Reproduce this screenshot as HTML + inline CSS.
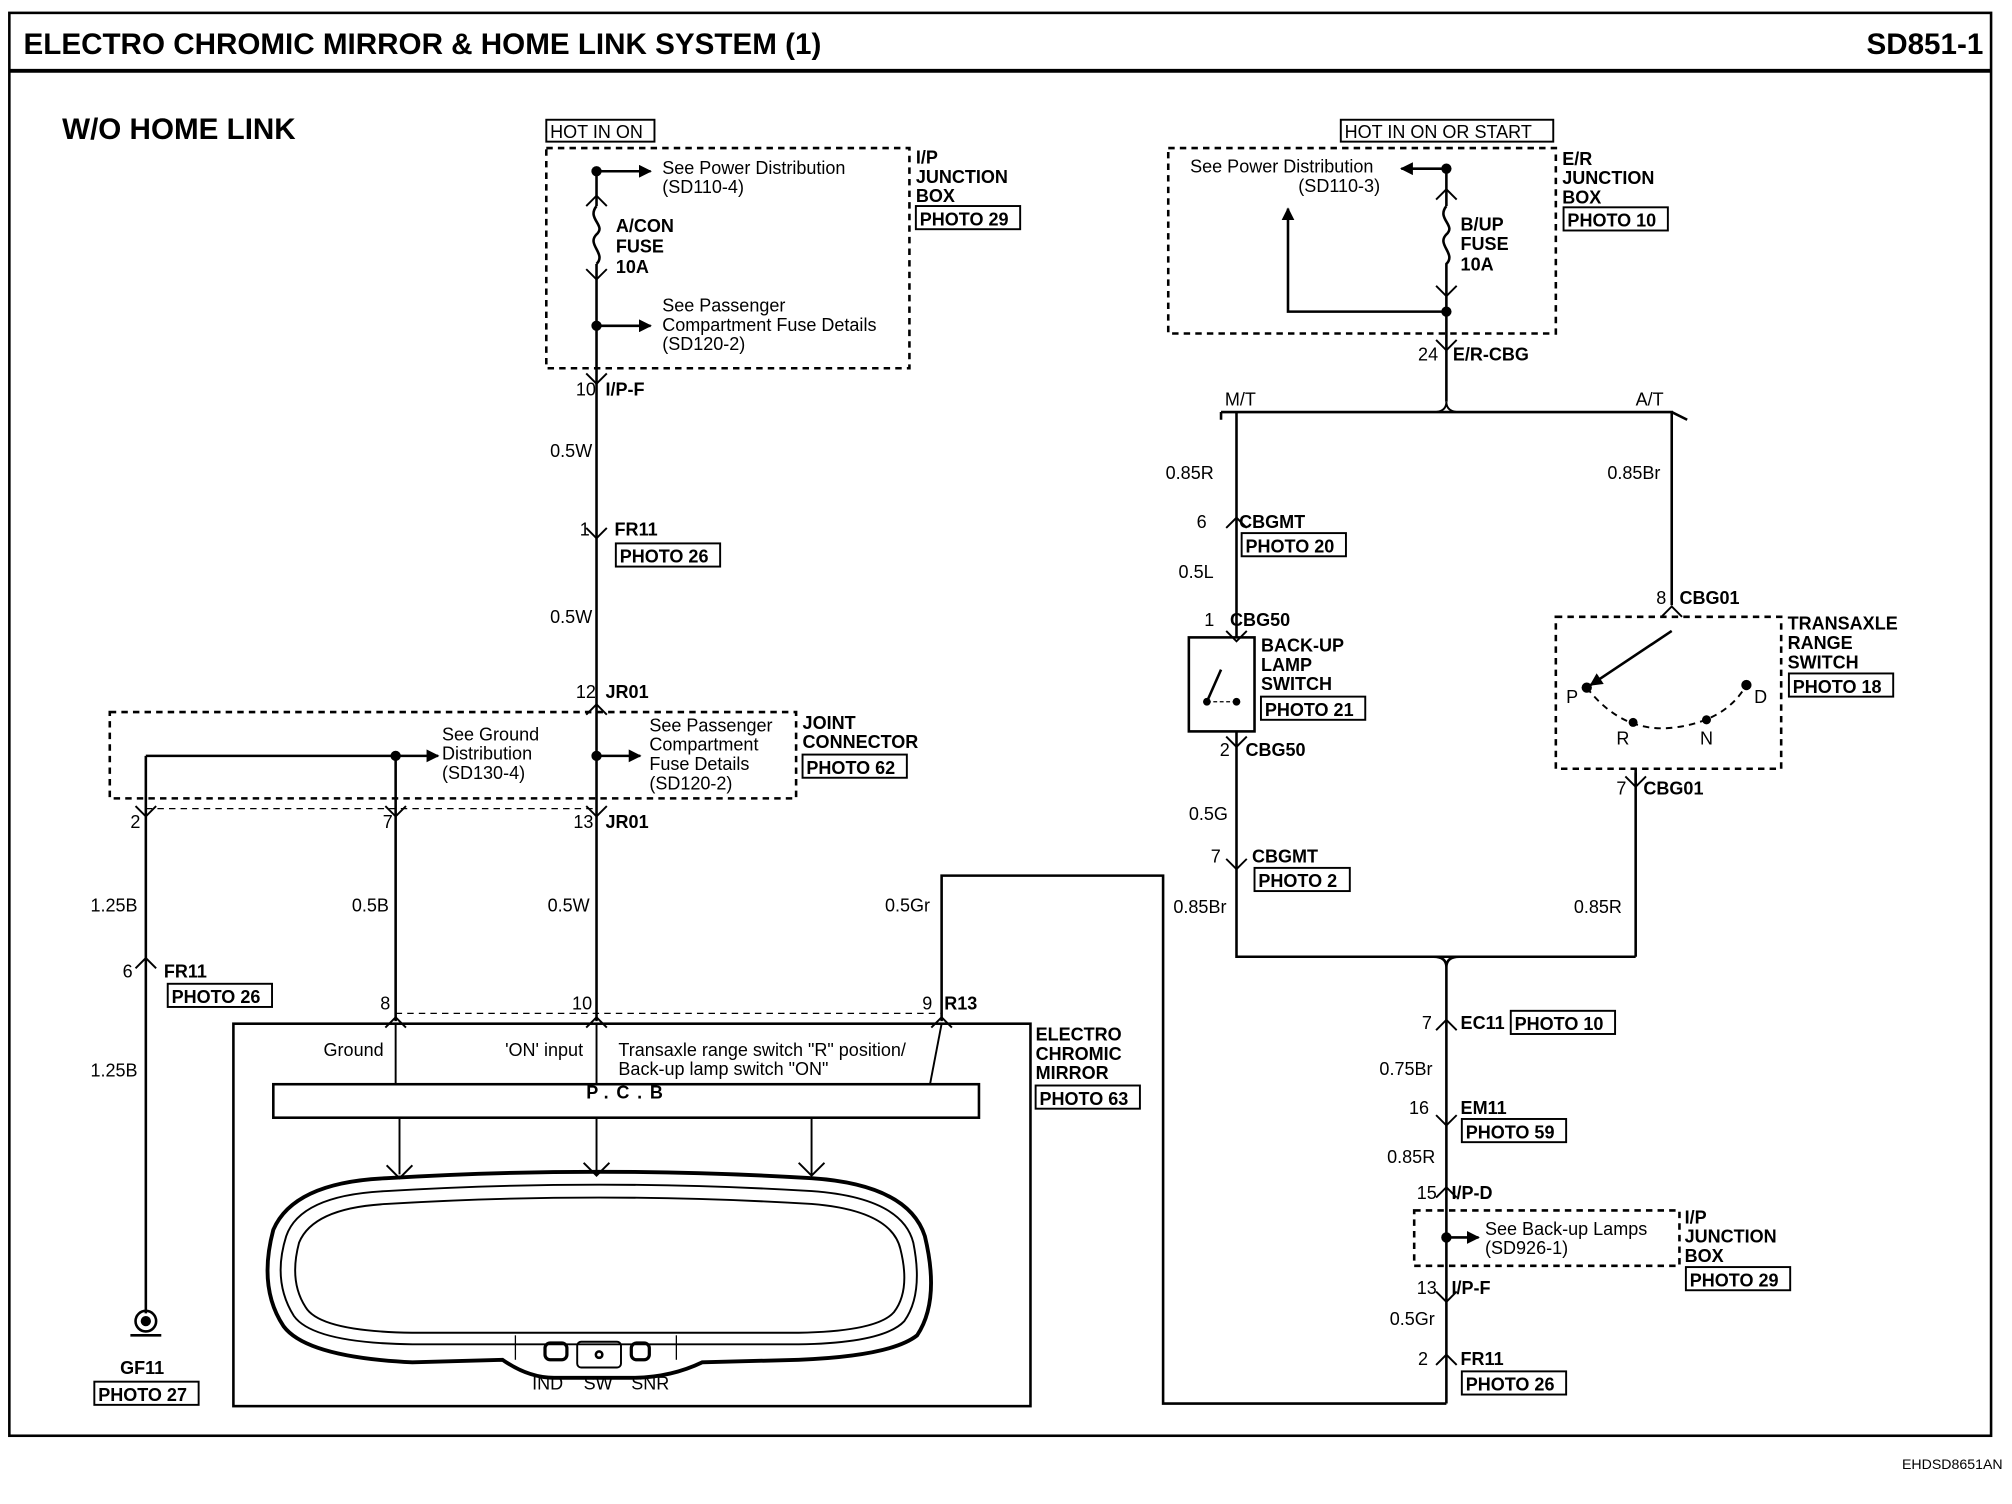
<!DOCTYPE html>
<html><head><meta charset="utf-8"><style>
html,body{margin:0;padding:0;background:#fff}
svg{display:block}
text{font-family:"Liberation Sans",Arial,sans-serif;fill:#000}
.b{font-weight:bold}
</style></head><body>
<svg width="2012" height="1504" viewBox="0 0 1562 1168" xmlns="http://www.w3.org/2000/svg">
<defs>
<marker id="ar" markerWidth="10" markerHeight="10" refX="9" refY="5" orient="auto" markerUnits="userSpaceOnUse"><path d="M0,0 L10,5 L0,10 z" fill="#000"/></marker>
</defs>
<g fill="none" stroke="#000" stroke-width="2">
<rect x="7" y="10" width="1539" height="1105"/>
<line x1="7" y1="55" x2="1546" y2="55" stroke-width="3"/>
</g>
<text x="18" y="42" class="b" font-size="23">ELECTRO CHROMIC MIRROR &amp; HOME LINK SYSTEM (1)</text>
<text x="1540" y="42" class="b" font-size="23" text-anchor="end">SD851-1</text>
<text x="48" y="108" class="b" font-size="23">W/O HOME LINK</text>
<text x="1555" y="1141" font-size="11" text-anchor="end">EHDSD8651AN</text>

<g fill="none" stroke="#000" stroke-width="2">
<line x1="463" y1="133" x2="463" y2="793"/>
<line x1="463" y1="160" x2="463" y2="205" stroke="#fff" stroke-width="4"/>
<path d="M463,160 c-8,10 8,15 0,22 c-8,8 8,15 0,23"/>
<rect x="424" y="115" width="282" height="171" stroke-dasharray="5,4"/>
<rect x="424" y="93" width="84" height="17" stroke-width="1.5"/>
<line x1="463" y1="133" x2="505" y2="133" marker-end="url(#ar)"/>
<line x1="463" y1="253" x2="505" y2="253" marker-end="url(#ar)"/>
<rect x="85" y="553" width="533" height="67" stroke-dasharray="5,4"/>
<line x1="113" y1="587" x2="340" y2="587" marker-end="url(#ar)" />
<line x1="463" y1="587" x2="497" y2="587" marker-end="url(#ar)"/>
<line x1="113" y1="587" x2="113" y2="1020"/>
<line x1="307" y1="587" x2="307" y2="793"/>
<line x1="113" y1="628" x2="463" y2="628" stroke-dasharray="5,4" stroke-width="1"/>
<line x1="307" y1="787" x2="731" y2="787" stroke-dasharray="5,4" stroke-width="1"/>
<circle cx="113" cy="1026" r="8"/>
<circle cx="113" cy="1026" r="3" fill="#000"/>
<line x1="101" y1="1037" x2="125" y2="1037"/>
<polyline points="731,793 731,680 903,680 903,1090 1123,1090"/>
<rect x="907" y="115" width="301" height="144" stroke-dasharray="5,4"/>
<rect x="1041" y="93" width="165" height="17" stroke-width="1.5"/>
<line x1="1123" y1="131" x2="1123" y2="312"/>
<line x1="1123" y1="751" x2="1123" y2="1090"/>
<line x1="1123" y1="160" x2="1123" y2="230" stroke="#fff" stroke-width="4"/>
<path d="M1123,160 c-8,10 8,15 0,22 c-8,8 8,15 0,23 l0,25"/>
<line x1="1123" y1="131" x2="1088" y2="131" marker-end="url(#ar)"/>
<polyline points="1123,242 1000,242 1000,162" marker-end="url(#ar)"/>
<path d="M948,320 L1298,320 L1298,470 M960,320 L960,495 M960,568 L960,743 L1270,743 M1270,600 L1270,743"/>
<path d="M1113,320 q10,0 10,-8 q0,8 10,8" stroke-width="1.5"/>
<path d="M948,326 l0,-6 M1310,326 l-12,-6"/>
<path d="M1113,743 q10,0 10,8 q0,-8 10,-8"/>
<rect x="923" y="495" width="51" height="73"/>
<line x1="937" y1="545" x2="948" y2="520"/>
<line x1="937" y1="545" x2="960" y2="545" stroke-dasharray="3,2" stroke-width="1"/>
<rect x="1208" y="479" width="175" height="118" stroke-dasharray="5,4"/>
<line x1="1298" y1="490" x2="1235" y2="532" marker-end="url(#ar)"/>
<path d="M1232,534 Q1260,570 1300,565 Q1340,560 1356,532" stroke-dasharray="5,4" stroke-width="1.5"/>
<line x1="1270" y1="597" x2="1270" y2="610"/>
<rect x="1098" y="940" width="206" height="43" stroke-dasharray="5,4"/>
<line x1="1123" y1="961" x2="1148" y2="961" marker-end="url(#ar)"/>
<rect x="181" y="795" width="619" height="297"/>
<rect x="212" y="842" width="548" height="26"/>
<line x1="307" y1="795" x2="307" y2="842" stroke-width="1.5"/>
<line x1="463" y1="795" x2="463" y2="842" stroke-width="1.5"/>
<line x1="731" y1="795" x2="722" y2="842" stroke-width="1.5"/>
<line x1="310" y1="868" x2="310" y2="912" stroke-width="1.5"/>
<line x1="463" y1="868" x2="463" y2="913" stroke-width="1.5"/>
<line x1="630" y1="868" x2="630" y2="912" stroke-width="1.5"/>
<path d="M300,905 l10,10 l10,-10 M453,903 l10,10 l10,-10 M620,903 l10,10 l10,-10" stroke-width="1.5"/>
<path d="M300,915 Q465,905 630,915 Q705,920 718,960 Q730,1010 712,1037 Q692,1053 620,1056 L545,1058 Q520,1070 490,1070 L430,1070 Q410,1070 390,1056 L320,1058 Q238,1054 220,1030 Q200,1000 212,955 Q228,918 300,915 Z" stroke-width="3"/>
<path d="M300,925 Q465,915 630,925 Q700,930 709,965 Q717,1005 702,1026 Q686,1043 620,1044 L320,1044 Q243,1043 228,1022 Q211,995 222,960 Q233,928 300,925 Z" stroke-width="1.5"/>
<path d="M300,935 Q465,925 630,935 Q692,940 699,970 Q707,1002 694,1019 Q681,1034 620,1035 L320,1035 Q248,1034 237,1015 Q224,995 232,965 Q243,938 300,935 Z" stroke-width="1.5"/>
<rect x="423" y="1043" width="17" height="13" rx="4" stroke-width="2.5"/>
<rect x="448" y="1042" width="34" height="20" rx="3" stroke-width="1.5"/>
<circle cx="465" cy="1052" r="2.5"/>
<rect x="490" y="1043" width="14" height="13" rx="4" stroke-width="2.5"/>
<line x1="400" y1="1037" x2="400" y2="1056" stroke-width="1"/>
<line x1="525" y1="1037" x2="525" y2="1056" stroke-width="1"/>
</g>
<g fill="#000">
<circle cx="463" cy="133" r="4"/><circle cx="463" cy="253" r="4"/>
<circle cx="1123" cy="131" r="4"/><circle cx="1123" cy="242" r="4"/>
<circle cx="307" cy="587" r="4"/><circle cx="463" cy="587" r="4"/>
<circle cx="1123" cy="961" r="4"/>
<circle cx="937" cy="545" r="3"/><circle cx="960" cy="545" r="3"/>
<circle cx="1232" cy="534" r="4"/><circle cx="1268" cy="561" r="3.5"/><circle cx="1325" cy="559" r="3.5"/><circle cx="1356" cy="532" r="4"/>
</g>
<g fill="none" stroke="#000" stroke-width="1.5">
<path d="M455,160 l8,-8 l8,8 M455,209 l8,8 l8,-8 M455,290 l8,8 l8,-8 M455,410 l8,8 l8,-8 M455,555 l8,-8 l8,8 M455,626 l8,8 l8,-8 M455,798 l8,-8 l8,8"/>
<path d="M105,626 l8,8 l8,-8 M299,626 l8,8 l8,-8 M299,798 l8,-8 l8,8 M105,752 l8,-8 l8,8 M723,798 l8,-8 l8,8"/>
<path d="M1115,155 l8,-8 l8,8 M1115,222 l8,8 l8,-8 M1115,264 l8,8 l8,-8 M952,410 l8,-8 l8,8 M952,490 l8,8 l8,-8 M952,572 l8,8 l8,-8 M952,667 l8,8 l8,-8 M1290,479 l8,-8 l8,8 M1262,603 l8,8 l8,-8"/>
<path d="M1115,800 l8,-8 l8,8 M1115,866 l8,8 l8,-8 M1115,930 l8,-8 l8,8 M1115,1003 l8,8 l8,-8 M1115,1060 l8,-8 l8,8"/>
</g>
<g font-size="14">
<text x="427" y="107">HOT IN ON</text>
<text x="1044" y="107">HOT IN ON OR START</text>
<text x="514" y="135">See Power Distribution</text><text x="514" y="150">(SD110-4)</text>
<text x="514" y="242">See Passenger</text><text x="514" y="257">Compartment Fuse Details</text><text x="514" y="272">(SD120-2)</text>
<text x="924" y="134">See Power Distribution</text><text x="1008" y="149">(SD110-3)</text>
<text x="343" y="575">See Ground</text><text x="343" y="590">Distribution</text><text x="343" y="605">(SD130-4)</text>
<text x="504" y="568">See Passenger</text><text x="504" y="583">Compartment</text><text x="504" y="598">Fuse Details</text><text x="504" y="613">(SD120-2)</text>
<text x="1153" y="959">See Back-up Lamps</text><text x="1153" y="974">(SD926-1)</text>
<text x="251" y="820">Ground</text><text x="392" y="820">'ON' input</text>
<text x="480" y="820">Transaxle range switch "R" position/</text><text x="480" y="835">Back-up lamp switch "ON"</text>
<text x="413" y="1079">IND</text><text x="453" y="1079">SW</text><text x="490" y="1079">SNR</text>
<text x="427" y="355">0.5W</text><text x="427" y="484">0.5W</text><text x="425" y="708">0.5W</text>
<text x="273" y="708">0.5B</text><text x="70" y="708">1.25B</text><text x="70" y="836">1.25B</text>
<text x="687" y="708">0.5Gr</text>
<text x="905" y="372">0.85R</text><text x="1248" y="372">0.85Br</text><text x="915" y="449">0.5L</text>
<text x="923" y="637">0.5G</text><text x="911" y="709">0.85Br</text><text x="1222" y="709">0.85R</text>
<text x="1071" y="835">0.75Br</text><text x="1077" y="903">0.85R</text><text x="1079" y="1029">0.5Gr</text>
<text x="447" y="307">10</text><text x="450" y="416">1</text><text x="447" y="542">12</text><text x="445" y="643">13</text>
<text x="101" y="643">2</text><text x="297" y="643">7</text><text x="95" y="759">6</text>
<text x="295" y="784">8</text><text x="444" y="784">10</text><text x="716" y="784">9</text>
<text x="1101" y="280">24</text><text x="929" y="410">6</text><text x="935" y="486">1</text><text x="947" y="587">2</text><text x="940" y="670">7</text>
<text x="1286" y="469">8</text><text x="1255" y="617">7</text>
<text x="1104" y="799">7</text><text x="1094" y="865">16</text><text x="1100" y="931">15</text><text x="1100" y="1005">13</text><text x="1101" y="1060">2</text>
<text x="1216" y="546">P</text><text x="1255" y="578">R</text><text x="1320" y="578">N</text><text x="1362" y="546">D</text>
</g>
<g font-size="14" class="b">
<text x="711" y="127">I/P</text><text x="711" y="142">JUNCTION</text><text x="711" y="157">BOX</text>
<text x="478" y="180">A/CON</text><text x="478" y="196">FUSE</text><text x="478" y="212">10A</text>
<text x="1213" y="128">E/R</text><text x="1213" y="143">JUNCTION</text><text x="1213" y="158">BOX</text>
<text x="1134" y="179">B/UP</text><text x="1134" y="194">FUSE</text><text x="1134" y="210">10A</text>
<text x="470" y="307">I/P-F</text><text x="477" y="416">FR11</text><text x="470" y="542">JR01</text><text x="470" y="643">JR01</text>
<text x="623" y="566">JOINT</text><text x="623" y="581">CONNECTOR</text>
<text x="127" y="759">FR11</text><text x="733" y="784">R13</text>
<text x="804" y="808">ELECTRO</text><text x="804" y="823">CHROMIC</text><text x="804" y="838">MIRROR</text>
<text x="93" y="1067">GF11</text>
<text x="1128" y="280">E/R-CBG</text><text x="951" y="315" font-weight="normal">M/T</text><text x="1270" y="315" font-weight="normal">A/T</text>
<text x="962" y="410">CBGMT</text><text x="955" y="486">CBG50</text>
<text x="979" y="506">BACK-UP</text><text x="979" y="521">LAMP</text><text x="979" y="536">SWITCH</text>
<text x="967" y="587">CBG50</text><text x="972" y="670">CBGMT</text>
<text x="1304" y="469">CBG01</text><text x="1276" y="617">CBG01</text>
<text x="1388" y="489">TRANSAXLE</text><text x="1388" y="504">RANGE</text><text x="1388" y="519">SWITCH</text>
<text x="1134" y="799">EC11</text><text x="1134" y="865">EM11</text><text x="1127" y="931">I/P-D</text><text x="1127" y="1005">I/P-F</text><text x="1134" y="1060">FR11</text>
<text x="1308" y="950">I/P</text><text x="1308" y="965">JUNCTION</text><text x="1308" y="980">BOX</text>
<text x="455" y="853" letter-spacing="6">P.C.B</text>
</g>
<g font-size="14" class="b">
<rect x="711" y="160" width="81" height="18" fill="none" stroke="#000" stroke-width="1.5"/><text x="714" y="175">PHOTO 29</text>
<rect x="1214" y="161" width="81" height="18" fill="none" stroke="#000" stroke-width="1.5"/><text x="1217" y="176">PHOTO 10</text>
<rect x="478" y="422" width="81" height="18" fill="none" stroke="#000" stroke-width="1.5"/><text x="481" y="437">PHOTO 26</text>
<rect x="623" y="586" width="81" height="18" fill="none" stroke="#000" stroke-width="1.5"/><text x="626" y="601">PHOTO 62</text>
<rect x="130" y="764" width="81" height="18" fill="none" stroke="#000" stroke-width="1.5"/><text x="133" y="779">PHOTO 26</text>
<rect x="804" y="843" width="81" height="18" fill="none" stroke="#000" stroke-width="1.5"/><text x="807" y="858">PHOTO 63</text>
<rect x="73" y="1073" width="81" height="18" fill="none" stroke="#000" stroke-width="1.5"/><text x="76" y="1088">PHOTO 27</text>
<rect x="964" y="414" width="81" height="18" fill="none" stroke="#000" stroke-width="1.5"/><text x="967" y="429">PHOTO 20</text>
<rect x="979" y="541" width="81" height="18" fill="none" stroke="#000" stroke-width="1.5"/><text x="982" y="556">PHOTO 21</text>
<rect x="974" y="674" width="74" height="18" fill="none" stroke="#000" stroke-width="1.5"/><text x="977" y="689">PHOTO 2</text>
<rect x="1389" y="523" width="81" height="18" fill="none" stroke="#000" stroke-width="1.5"/><text x="1392" y="538">PHOTO 18</text>
<rect x="1173" y="785" width="81" height="18" fill="none" stroke="#000" stroke-width="1.5"/><text x="1176" y="800">PHOTO 10</text>
<rect x="1135" y="869" width="81" height="18" fill="none" stroke="#000" stroke-width="1.5"/><text x="1138" y="884">PHOTO 59</text>
<rect x="1309" y="984" width="81" height="18" fill="none" stroke="#000" stroke-width="1.5"/><text x="1312" y="999">PHOTO 29</text>
<rect x="1135" y="1065" width="81" height="18" fill="none" stroke="#000" stroke-width="1.5"/><text x="1138" y="1080">PHOTO 26</text>
</g>
</svg>
</body></html>
